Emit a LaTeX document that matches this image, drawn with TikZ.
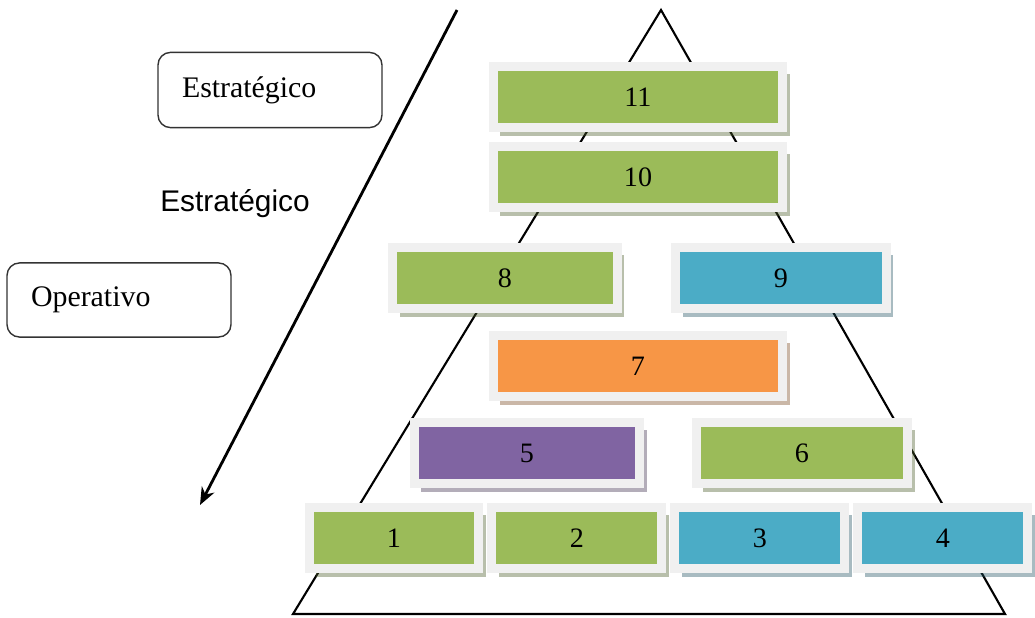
\documentclass[tikz,border=0pt]{standalone}
\usepackage{fontspec}
\setmainfont{Liberation Serif}
\setsansfont{Liberation Sans}
\usetikzlibrary{arrows.meta, positioning, shadows}

\definecolor{levgreen}{HTML}{9BBB59}
\definecolor{levblue}{HTML}{4BACC6}
\definecolor{levorange}{HTML}{F79646}
\definecolor{levpurple}{HTML}{8064A2}
\definecolor{framegray}{HTML}{F0F0F0}

\begin{document}
\begin{tikzpicture}[x=0.02cm, y=-0.02cm, node distance=3.66cm, on grid,
	level/.style={rectangle, fill=#1, draw=framegray, line width=0.18cm,
		minimum height=1.24cm, inner sep=0pt,
		font=\fontsize{16}{18}\selectfont,
		drop shadow={shadow xshift=0.14cm, shadow yshift=-0.16cm, fill=#1!50!black, opacity=0.4}},
	tag/.style={rectangle, draw=black!80, rounded corners=0.25cm, line width=0.8pt,
		minimum width=4.48cm, minimum height=1.4cm, inner sep=0.48cm,
		text width=3.52cm, align=left, font=\fontsize{17}{20}\selectfont},
	>=Stealth]

\useasboundingbox (0,0) rectangle (1035,618);

% Pyramid
\coordinate (apex) at (661,10);
\coordinate (baseL) at (293,614);
\coordinate (baseR) at (1005,614);
\draw[line width=1.2pt] (apex) -- (baseL) -- (baseR) -- cycle;

% Direction arrow
\coordinate (arrTop) at (457,10);
\coordinate (arrEnd) at (200,505);
\draw[->, line width=1.6pt, >={Stealth[length=0.35cm, width=0.28cm]}] (arrTop) -- (arrEnd);

% Labels
\node[tag] (tagEst) at (270,90) {Estratégico};
\node[tag] (tagOp) at (119,300) {Operativo};
\node[font=\sffamily\fontsize{17}{20}\selectfont] (midEst) at (235,204) {Estratégico};

% Levels
\node[level=levgreen, minimum width=5.8cm] (L11) at (638,97) {11};
\node[level=levgreen, minimum width=5.8cm] (L10) at (638,177) {10};
\node[level=levgreen, minimum width=4.5cm] (L8) at (505,278) {8};
\node[level=levblue, minimum width=4.22cm] (L9) at (781,278) {9};
\node[level=levorange, minimum width=5.8cm] (L7) at (638,366) {7};
\node[level=levpurple, minimum width=4.52cm] (L5) at (527,453) {5};
\node[level=levgreen, minimum width=4.24cm] (L6) at (802,453) {6};

\node[level=levgreen, minimum width=3.4cm] (L1) at (394,538) {1};
\node[level=levgreen, minimum width=3.4cm, right=of L1] (L2) {2};
\node[level=levblue, minimum width=3.4cm, right=of L2] (L3) {3};
\node[level=levblue, minimum width=3.4cm, right=of L3] (L4) {4};
\end{tikzpicture}
\end{document}
